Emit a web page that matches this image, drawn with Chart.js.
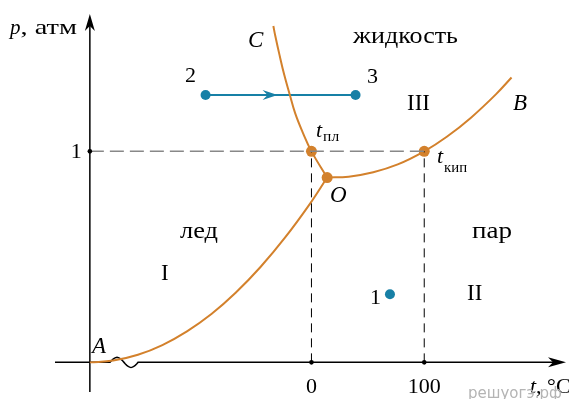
<!DOCTYPE html>
<html lang="ru">
<head>
<meta charset="UTF-8">
<title>Фазовая диаграмма</title>
<style>
  html, body { margin: 0; padding: 0; background: #fff; }
  #wrap { width: 569px; height: 399px; position: relative; }
</style>
</head>
<body>
<div id="wrap"><canvas id="phaseChart"></canvas></div>
<script src="https://cdn.jsdelivr.net/npm/chart.js"></script>
<script>
// кривая сублимации A–O
const sublT = [-196.5, -175.7, -153.9, -132.2, -110.4, -88.7, -67.0, -45.2, -23.5, -1.7, 13.9];
const sublP = [0, 0.0086, 0.036, 0.082, 0.147, 0.229, 0.331, 0.452, 0.591, 0.749, 0.876];
// кривая плавления O–C
const meltT = [13.9, 0, -7.6, -14.4, -19.4, -24.2, -28.3, -32.1, -33.8];
const meltP = [0.876, 1.0, 1.088, 1.180, 1.272, 1.364, 1.456, 1.548, 1.594];
// кривая кипения O–B
const boilT = [13.9, 33.0, 54.8, 76.5, 100, 120, 141.7, 163.5, 177.4];
const boilP = [0.876, 0.880, 0.901, 0.938, 1.0, 1.069, 1.161, 1.270, 1.350];
// t_пл, O, t_кип
const keyT = [0, 13.9, 100];
const keyP = [1, 0.876, 1];
// процесс 2 -> 3 и состояние 1
const procT = [-93.9, 39.1];
const procP = [1.267, 1.267];
const stateT = [69.6];
const stateP = [0.323];
const tickT = [0, 100];
const tickLabels = ['0', '100'];
const tickP = 1;
const axisT = -196.5; // ось p (шкала t с разрывом)

const ORANGE = '#d3812c';
const BLUE = '#1780a6';
const pts = (xs, ys) => xs.map((x, i) => ({ x: x, y: ys[i] }));

const decor = {
    id: 'decor',
    beforeDatasetsDraw(chart) {
        const ctx = chart.ctx, xs = chart.scales.x, ys = chart.scales.y;
        const x0 = xs.getPixelForValue(axisT), y0 = ys.getPixelForValue(0);
        ctx.save();
        ctx.strokeStyle = '#000';
        ctx.fillStyle = '#000';
        ctx.lineWidth = 1.5;
        // ось p
        ctx.beginPath();
        ctx.moveTo(x0, 392);
        ctx.lineTo(x0, 24);
        ctx.stroke();
        ctx.beginPath();
        ctx.moveTo(x0, 14);
        ctx.lineTo(x0 - 5, 31);
        ctx.lineTo(x0, 26);
        ctx.lineTo(x0 + 5, 31);
        ctx.closePath();
        ctx.fill();
        // ось t с разрывом
        ctx.beginPath();
        ctx.moveTo(55, y0);
        ctx.lineTo(110, y0);
        for (let s = 0; s <= 1.0001; s += 0.05) {
            ctx.lineTo(110 + 28 * s, y0 - 5 * Math.sin(2 * Math.PI * s));
        }
        ctx.lineTo(556, y0);
        ctx.stroke();
        ctx.beginPath();
        ctx.moveTo(566, y0);
        ctx.lineTo(548, y0 - 5);
        ctx.lineTo(553, y0);
        ctx.lineTo(548, y0 + 5);
        ctx.closePath();
        ctx.fill();
        ctx.restore();
    },
    afterDatasetsDraw(chart) {
        const ctx = chart.ctx, xs = chart.scales.x, ys = chart.scales.y;
        const x0 = xs.getPixelForValue(axisT), y0 = ys.getPixelForValue(0);
        ctx.save();
        ctx.fillStyle = '#000';
        // деления
        const dot = (x, y) => { ctx.beginPath(); ctx.arc(x, y, 2.3, 0, Math.PI * 2); ctx.fill(); };
        tickT.forEach(t => dot(xs.getPixelForValue(t), y0));
        dot(x0, ys.getPixelForValue(tickP));

        // стрелка процесса 2 -> 3
        const ax1 = xs.getPixelForValue(procT[0]), ax2 = xs.getPixelForValue(procT[1]);
        const tip = ax1 + 0.48 * (ax2 - ax1), ay = ys.getPixelForValue(procP[0]);
        ctx.fillStyle = BLUE;
        ctx.beginPath();
        ctx.moveTo(tip, ay);
        ctx.lineTo(tip - 15, ay - 5);
        ctx.lineTo(tip - 10, ay);
        ctx.lineTo(tip - 15, ay + 5);
        ctx.closePath();
        ctx.fill();

        // подписи
        ctx.fillStyle = '#000';
        ctx.textBaseline = 'alphabetic';
        const serif = '"Liberation Serif", "Times New Roman", serif';
        const txt = (s, x, y, size, italic, align) => {
            ctx.font = (italic ? 'italic ' : '') + size + 'px ' + serif;
            ctx.textAlign = align || 'left';
            ctx.fillText(s, x, y);
            return ctx.measureText(s).width;
        };
        // кириллица в оригинале шире — растягиваем до нужной ширины
        const wide = (s, x, y, size, width) => {
            ctx.font = size + 'px ' + serif;
            ctx.textAlign = 'left';
            const m = ctx.measureText(s).width;
            ctx.save();
            ctx.translate(x, y);
            ctx.scale(width / m, 1);
            ctx.fillText(s, 0, 0);
            ctx.restore();
        };
        let w = txt('p', 10, 34, 21, true);
        wide(', атм', 10 + w, 34, 21, 77 - 10 - w);
        tickT.forEach((t, i) => txt(tickLabels[i], xs.getPixelForValue(t), 393, 22, false, 'center'));
        txt('1', x0 - 8, 158, 22, false, 'right');
        w = txt('t', 530, 393, 22, true);
        txt(', °C', 530 + w, 393, 22, false);

        txt('C', 248, 47, 23, true);
        wide('жидкость', 353, 43, 23, 105);
        txt('2', 185, 82, 22, false);
        txt('3', 367, 83, 22, false);
        txt('III', 407, 110, 23, false);
        txt('B', 513, 110, 23, true);
        w = txt('t', 316, 137, 22, true);
        wide('пл', 316 + w + 1, 141, 15, 16);
        w = txt('t', 437, 163, 22, true);
        wide('кип', 437 + w + 1, 172, 15, 23);
        txt('O', 330, 202, 23, true);
        wide('лед', 180, 238, 23, 38);
        txt('I', 161, 280, 23, false);
        wide('пар', 472, 238, 23, 40);
        txt('II', 467, 300, 23, false);
        txt('1', 370, 304, 22, false);
        txt('A', 92, 353, 23, true);

        // водяной знак
        ctx.fillStyle = '#b4b4b4';
        ctx.font = '15px "DejaVu Sans", sans-serif';
        ctx.textAlign = 'left';
        ctx.fillText('решуогэ.рф', 468, 398);
        ctx.restore();
    }
};

const ctx = document.getElementById('phaseChart').getContext('2d');
const curve = (xs, ys) => ({
    data: pts(xs, ys), showLine: true, borderColor: ORANGE, borderWidth: 2, pointRadius: 0,
    tension: 0.4, fill: false
});
new Chart(ctx, {
    type: 'scatter',
    data: {
        datasets: [
            { data: [{ x: axisT, y: 1 }, { x: 100, y: 1 }], showLine: true, borderColor: '#888',
              borderWidth: 1.5, borderDash: [14, 6], pointRadius: 0 },
            { data: [{ x: 0, y: 0 }, { x: 0, y: 1 }], showLine: true, borderColor: '#000',
              borderWidth: 1, borderDash: [9, 6], pointRadius: 0 },
            { data: [{ x: 100, y: 0 }, { x: 100, y: 1 }], showLine: true, borderColor: '#000',
              borderWidth: 1, borderDash: [9, 6], pointRadius: 0 },
            curve(sublT, sublP),
            curve(meltT, meltP),
            curve(boilT, boilP),
            { data: pts(keyT, keyP), pointRadius: 5.5, backgroundColor: ORANGE, borderWidth: 0 },
            { data: pts(procT, procP), showLine: true, borderColor: BLUE, borderWidth: 2,
              pointRadius: 5, backgroundColor: BLUE, pointBorderWidth: 0 },
            { data: pts(stateT, stateP), pointRadius: 5, backgroundColor: BLUE, borderWidth: 0 }
        ]
    },
    options: {
        responsive: true,
        maintainAspectRatio: false,
        animation: false,
        layout: { padding: 0 },
        plugins: { legend: { display: false }, tooltip: { enabled: false } },
        scales: {
            x: { type: 'linear', display: false, min: -271.3, max: 223.48 },
            y: { type: 'linear', display: false, min: -0.1475, max: 1.6912 }
        }
    },
    plugins: [decor]
});
</script>
</body>
</html>
